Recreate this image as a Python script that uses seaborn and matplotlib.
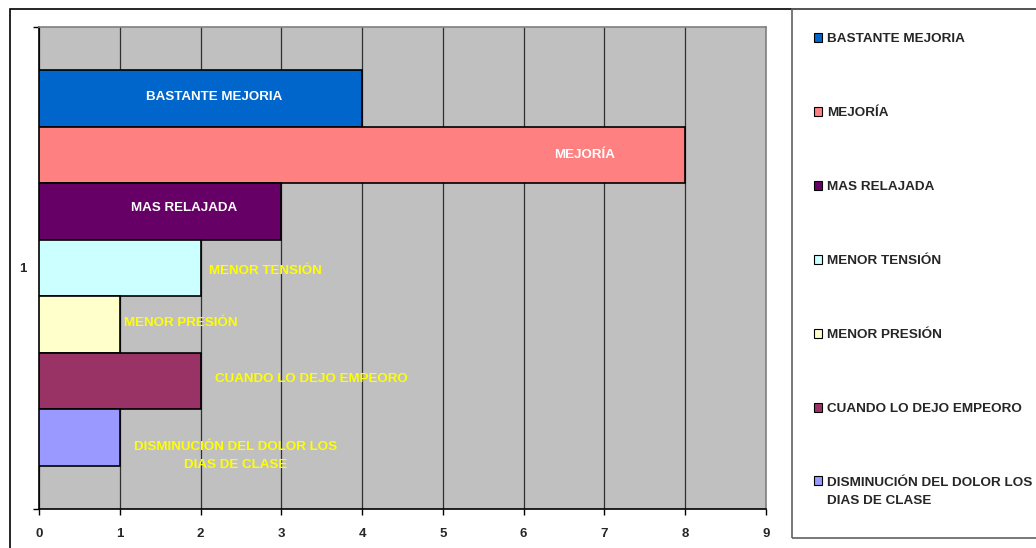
import matplotlib
matplotlib.use("Agg")
import matplotlib.pyplot as plt
from matplotlib.patches import Rectangle
from matplotlib.legend_handler import HandlerPatch
import seaborn as sns
import pandas as pd

# ---- data ----
category = ["1"]
series = ["BASTANTE MEJORIA", "MEJORÍA", "MAS RELAJADA", "MENOR TENSIÓN",
          "MENOR PRESIÓN", "CUANDO LO DEJO EMPEORO",
          "DISMINUCIÓN DEL DOLOR LOS\nDIAS DE CLASE"]
values = [4, 8, 3, 2, 1, 2, 1]
colors = ["#0066CC", "#FF8080", "#660066", "#CCFFFF", "#FFFFCC", "#993366", "#9999FF"]
label_colors = ["white", "white", "white", "#FFFF00", "#FFFF00", "#FFFF00", "#FFFF00"]
x_ticks = [0, 1, 2, 3, 4, 5, 6, 7, 8, 9]
# data-label placement (x in data units, y shift in bar heights)
label_x = [2.17, 6.76, 1.79, 2.80, 1.76, 3.37, 2.43]
label_dy = [-0.03, 0.0, -0.06, 0.05, -0.03, -0.03, 0.33]

df = pd.DataFrame({"cat": category * len(series), "series": series, "value": values})

sns.set_style("white")
plt.rcParams["font.family"] = ["Liberation Sans", "DejaVu Sans"]

W, H = 1036, 548
fig = plt.figure(figsize=(W / 100, H / 100), dpi=100)
ax = fig.add_axes([39 / W, 1 - 509 / H, (766 - 39) / W, (509 - 27) / H])

width = 0.82
sns.barplot(data=df, x="value", y="cat", hue="series", hue_order=series,
            palette=colors, saturation=1, orient="h", width=width, dodge=True,
            edgecolor="black", linewidth=1.2, ax=ax, legend=True, zorder=3)

ax.set_facecolor("#C0C0C0")
ax.set_xlim(0, 9)
ax.set_ylim(0.5, -0.5)
ax.set_xticks(x_ticks)
ax.set_xticklabels([str(t) for t in x_ticks], fontsize=9.5, fontweight="bold")
ax.set_yticks([0])
ax.set_yticklabels(category, fontsize=9.5, fontweight="bold")
ax.set_xlabel("")
ax.set_ylabel("")
ax.grid(axis="x", color="#303030", linewidth=0.9, zorder=1)
ax.set_axisbelow(True)
ax.tick_params(axis="x", direction="out", length=4, width=1, color="black", pad=10, bottom=True)
ax.tick_params(axis="y", direction="out", length=0, pad=9, left=True)
ax.set_yticks([-0.5, 0.5], minor=True)
ax.tick_params(axis="y", which="minor", length=4, width=1, color="black", left=True)
for s in ["left", "bottom"]:
    ax.spines[s].set_color("black")
    ax.spines[s].set_linewidth(1.2)
for s in ["top", "right"]:
    ax.spines[s].set_color("#808080")
    ax.spines[s].set_linewidth(1.2)

# data labels
bar_h = width / len(series)
for i, (lab, lx, dy, lc) in enumerate(zip(series, label_x, label_dy, label_colors)):
    yc = -width / 2 + bar_h * (i + 0.5) + dy * bar_h
    ax.text(lx, yc, lab, ha="center", va="center", color=lc, fontsize=9.6,
            fontweight="bold", zorder=5, linespacing=1.75)

# legend
handles, labels = ax.get_legend_handles_labels()
ax.get_legend().remove()

multi = {id(h) for h, l in zip(handles, labels) if "\n" in l}


def square(legend, orig_handle, xdescent, ydescent, width, height, fontsize):
    shift = 0.85 * fontsize if id(orig_handle) in multi else 0.0
    return Rectangle((-xdescent, -ydescent + shift), width, height)


hm = {h: HandlerPatch(patch_func=square) for h in handles}
leg = fig.legend(handles, labels, loc="upper left", bbox_to_anchor=(814 / W, 1 - 33 / H),
                 frameon=False, prop={"weight": "bold", "size": 9.7},
                 handlelength=0.6, handleheight=0.6, handletextpad=0.4,
                 labelspacing=4.6, borderaxespad=0, borderpad=0, handler_map=hm)
for h, c in zip(leg.legend_handles, colors):
    h.set_facecolor(c)
    h.set_edgecolor("black")
    h.set_linewidth(0.8)
for t in leg.get_texts():
    t.set_linespacing(1.7)

# outer chart frame and legend box
fig.patches.append(Rectangle((10 / W, -0.05), 1.1, 1 - 9 / H + 0.05, transform=fig.transFigure,
                             fill=False, edgecolor="black", linewidth=1.2))
fig.patches.append(Rectangle((792 / W, 1 - 538 / H), 1.1, (538 - 9) / H, transform=fig.transFigure,
                             fill=False, edgecolor="#606060", linewidth=1.2))

fig.savefig("out.png", dpi=100)
